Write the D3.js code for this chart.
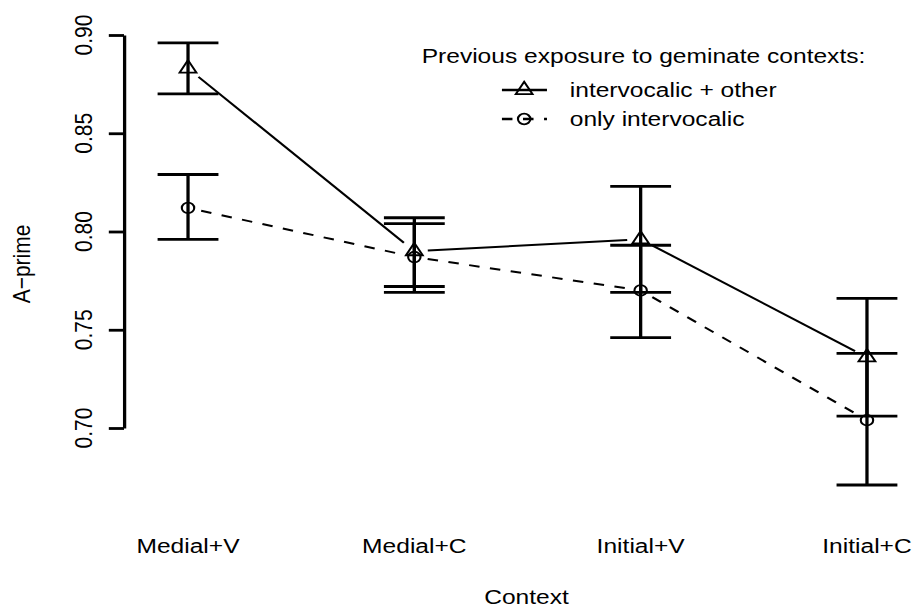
<!DOCTYPE html>
<html>
<head>
<meta charset="utf-8">
<script src="https://cdn.jsdelivr.net/npm/d3@7"></script>
<style>
  body { margin: 0; background: #fff; }
  svg { display: block; }
  text { font-family: "Liberation Sans", Arial, sans-serif; fill: #000; }
</style>
</head>
<body>
<script>
// values
const categories = ['Medial+V', 'Medial+C', 'Initial+V', 'Initial+C'];

const otherMean  = [0.883, 0.790, 0.796, 0.736];
const otherLower = [0.870, 0.772, 0.769, 0.706];
const otherUpper = [0.896, 0.807, 0.823, 0.766];

const onlyMean  = [0.812, 0.787, 0.770, 0.704];
const onlyLower = [0.796, 0.769, 0.746, 0.671];
const onlyUpper = [0.829, 0.804, 0.793, 0.738];

const yTicks = [0.70, 0.75, 0.80, 0.85, 0.90];

const legendTitle = 'Previous exposure to geminate contexts:';
const seriesNames = ['intervocalic + other', 'only intervocalic'];

const W = 913, H = 609;
// the picture is stretched sideways, so draw in narrower units and widen
const sx = 1.17;

const svg = d3.select('body').append('svg')
  .attr('width', W)
  .attr('height', H);

const g = svg.append('g').attr('transform', `scale(${sx},1)`);

const x = d3.scalePoint()
  .domain(categories)
  .range([160.7, 741]);

const y = d3.scaleLinear()
  .domain([0.70, 0.90])
  .range([428, 35]);

const fs = 21;

// y axis, R style
const yAxis = d3.axisLeft(y)
  .tickValues(yTicks)
  .tickSize(13)
  .tickSizeOuter(0)
  .tickFormat(d3.format('.2f'));

const ax = g.append('g')
  .attr('transform', 'translate(106,0)')
  .call(yAxis);
ax.select('.domain').attr('stroke', '#000').attr('stroke-width', 2.8);
ax.selectAll('.tick line').attr('stroke', '#000').attr('stroke-width', 2.8);
ax.selectAll('.tick text').remove();

// rotated tick labels
g.append('g').selectAll('text')
  .data(yTicks)
  .enter().append('text')
    .attr('transform', d => `translate(79,${y(d)}) rotate(-90)`)
    .attr('text-anchor', 'middle')
    .style('font-size', fs + 'px')
    .text(d => d3.format('.2f')(d));

// axis titles
g.append('text')
  .attr('transform', 'translate(25.5,264) rotate(-90)')
  .attr('text-anchor', 'middle')
  .style('font-size', fs + 'px')
  .text('A\u2212prime');

g.append('text')
  .attr('x', 450)
  .attr('y', 604)
  .attr('text-anchor', 'middle')
  .style('font-size', fs + 'px')
  .text('Context');

// category labels (no axis line drawn)
g.append('g').selectAll('text')
  .data(categories)
  .enter().append('text')
    .attr('x', d => x(d))
    .attr('y', 553)
    .attr('text-anchor', 'middle')
    .style('font-size', fs + 'px')
    .text(d => d);

const series = [
  { mean: otherMean, lower: otherLower, upper: otherUpper, dash: null, shape: 'tri' },
  { mean: onlyMean, lower: onlyLower, upper: onlyUpper, dash: '9,9', shape: 'circ' },
];

const pr = 5.3;   // R point radius
const triPath = (cx, cy) => {
  const r = 1.5551 * pr, xc = 1.3468 * pr, yc = 0.7776 * pr;
  return `M${cx},${cy - r}L${cx + xc},${cy + yc}L${cx - xc},${cy + yc}Z`;
};

const drawMarker = (sel, shape, cx, cy) => {
  if (shape === 'tri') {
    sel.append('path')
      .attr('d', triPath(cx, cy))
      .attr('fill', 'none')
      .attr('stroke', '#000')
      .attr('stroke-width', 1.8);
  } else {
    sel.append('circle')
      .attr('cx', cx).attr('cy', cy).attr('r', pr)
      .attr('fill', 'none')
      .attr('stroke', '#000')
      .attr('stroke-width', 1.8);
  }
};

const gap = 11.5;
const capW = 26;

series.forEach(s => {
  const sg = g.append('g');
  const pts = categories.map((c, i) => [x(c), y(s.mean[i])]);

  // type = "b" segments with gaps at the points
  d3.pairs(pts).forEach(([a, b]) => {
    const dx = (b[0] - a[0]) * sx, dy = b[1] - a[1];
    const len = Math.hypot(dx, dy);
    const ux = dx / len / sx, uy = dy / len;
    sg.append('line')
      .attr('x1', a[0] + ux * gap * sx).attr('y1', a[1] + uy * gap * sx)
      .attr('x2', b[0] - ux * gap * sx).attr('y2', b[1] - uy * gap * sx)
      .attr('stroke', '#000')
      .attr('stroke-width', 2)
      .attr('stroke-dasharray', s.dash);
  });

  pts.forEach(p => drawMarker(sg, s.shape, p[0], p[1]));

  // error bars
  const eb = sg.append('g')
    .attr('stroke', '#000')
    .attr('stroke-width', 2.8)
    .attr('fill', 'none');
  categories.forEach((c, i) => {
    const cx = x(c), y0 = y(s.lower[i]), y1 = y(s.upper[i]);
    eb.append('line').attr('x1', cx).attr('x2', cx).attr('y1', y0).attr('y2', y1);
    eb.append('line').attr('x1', cx - capW).attr('x2', cx + capW).attr('y1', y0).attr('y2', y0);
    eb.append('line').attr('x1', cx - capW).attr('x2', cx + capW).attr('y1', y1).attr('y2', y1);
  });
});

// legend
const lg = g.append('g');
lg.append('text')
  .attr('x', 550)
  .attr('y', 63)
  .attr('text-anchor', 'middle')
  .style('font-size', fs + 'px')
  .text(legendTitle);

const rowY = [90, 119];
series.forEach((s, i) => {
  lg.append('line')
    .attr('x1', 429).attr('x2', 467.5)
    .attr('y1', rowY[i]).attr('y2', rowY[i])
    .attr('stroke', '#000')
    .attr('stroke-width', 2.4)
    .attr('stroke-dasharray', s.dash);
  drawMarker(lg, s.shape, 448, rowY[i]);
  lg.append('text')
    .attr('x', 487)
    .attr('y', rowY[i] + 7.5)
    .style('font-size', fs + 'px')
    .text(seriesNames[i]);
});
</script>
</body>
</html>
